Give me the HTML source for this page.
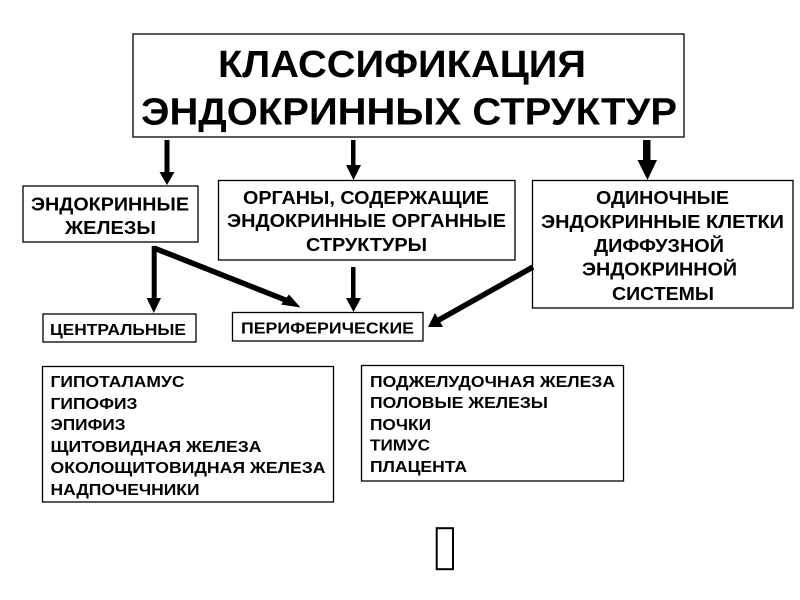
<!DOCTYPE html>
<html><head><meta charset="utf-8"><style>
html,body{margin:0;padding:0;background:#fff}
svg{display:block}
text{font-family:"Liberation Sans",sans-serif;font-weight:bold;fill:#000}
.t{font-size:38px}
.m{font-size:18.5px}
.s{font-size:16px}
rect{fill:#fff;stroke:#000;stroke-width:1.3}
</style></head><body>
<svg width="800" height="600" viewBox="0 0 800 600" xmlns="http://www.w3.org/2000/svg">
<rect x="133" y="34" width="551" height="103"/>
<rect x="23" y="186" width="175" height="56"/>
<rect x="218.500" y="180.500" width="296.500" height="79.500"/>
<rect x="532.500" y="180.500" width="260.500" height="127.500"/>
<rect x="43" y="314" width="153" height="28"/>
<rect x="232.500" y="312.500" width="190.500" height="28.500"/>
<rect x="42.500" y="366.500" width="291" height="135.500"/>
<rect x="361.500" y="365.500" width="262" height="115.500"/>
<rect x="436.700" y="528.200" width="16.300" height="41" style="stroke-width:2"/>

<text class="t" x="218" y="77" textLength="368" lengthAdjust="spacingAndGlyphs">КЛАССИФИКАЦИЯ</text>
<text class="t" x="141" y="124.500" textLength="536" lengthAdjust="spacingAndGlyphs">ЭНДОКРИННЫХ СТРУКТУР</text>

<text class="m" x="31" y="210.500" textLength="158" lengthAdjust="spacingAndGlyphs">ЭНДОКРИННЫЕ</text>
<text class="m" x="65" y="234" textLength="91" lengthAdjust="spacingAndGlyphs">ЖЕЛЕЗЫ</text>
<text class="m" x="243" y="204" textLength="246" lengthAdjust="spacingAndGlyphs">ОРГАНЫ, СОДЕРЖАЩИЕ</text>
<text class="m" x="227" y="227" textLength="279" lengthAdjust="spacingAndGlyphs">ЭНДОКРИННЫЕ ОРГАННЫЕ</text>
<text class="m" x="306" y="251" textLength="121" lengthAdjust="spacingAndGlyphs">СТРУКТУРЫ</text>
<text class="m" x="596" y="204" textLength="133" lengthAdjust="spacingAndGlyphs">ОДИНОЧНЫЕ</text>
<text class="m" x="541" y="228" textLength="243" lengthAdjust="spacingAndGlyphs">ЭНДОКРИННЫЕ КЛЕТКИ</text>
<text class="m" x="594" y="252" textLength="130" lengthAdjust="spacingAndGlyphs">ДИФФУЗНОЙ</text>
<text class="m" x="582" y="275.500" textLength="155" lengthAdjust="spacingAndGlyphs">ЭНДОКРИННОЙ</text>
<text class="m" x="612" y="300" textLength="102" lengthAdjust="spacingAndGlyphs">СИСТЕМЫ</text>

<text class="s" x="50" y="335" textLength="136" lengthAdjust="spacingAndGlyphs">ЦЕНТРАЛЬНЫЕ</text>
<text class="s" x="241" y="333.500" textLength="173" lengthAdjust="spacingAndGlyphs">ПЕРИФЕРИЧЕСКИЕ</text>

<text class="s" x="50.500" y="387" textLength="134" lengthAdjust="spacingAndGlyphs">ГИПОТАЛАМУС</text>
<text class="s" x="50.500" y="409" textLength="87" lengthAdjust="spacingAndGlyphs">ГИПОФИЗ</text>
<text class="s" x="50.500" y="430" textLength="75" lengthAdjust="spacingAndGlyphs">ЭПИФИЗ</text>
<text class="s" x="50.500" y="452" textLength="211" lengthAdjust="spacingAndGlyphs">ЩИТОВИДНАЯ ЖЕЛЕЗА</text>
<text class="s" x="50.500" y="473" textLength="275" lengthAdjust="spacingAndGlyphs">ОКОЛОЩИТОВИДНАЯ ЖЕЛЕЗА</text>
<text class="s" x="50.500" y="495" textLength="149" lengthAdjust="spacingAndGlyphs">НАДПОЧЕЧНИКИ</text>

<text class="s" x="370" y="387" textLength="245" lengthAdjust="spacingAndGlyphs">ПОДЖЕЛУДОЧНАЯ ЖЕЛЕЗА</text>
<text class="s" x="370" y="408" textLength="178" lengthAdjust="spacingAndGlyphs">ПОЛОВЫЕ ЖЕЛЕЗЫ</text>
<text class="s" x="370" y="430" textLength="61" lengthAdjust="spacingAndGlyphs">ПОЧКИ</text>
<text class="s" x="370" y="450.500" textLength="60" lengthAdjust="spacingAndGlyphs">ТИМУС</text>
<text class="s" x="370" y="472" textLength="97" lengthAdjust="spacingAndGlyphs">ПЛАЦЕНТА</text>

<g fill="#000" stroke="none">
<polygon points="164.500,140 169.500,140 169.500,172 174.500,172 167,185 159.500,172 164.500,172"/>
<polygon points="351,140 355.500,140 355.500,165 361,165 353.500,180 346,165 351,165"/>
<polygon points="643,140 650.500,140 650.500,160 657,160 647.500,180 637.500,160 643,160"/>
<polygon points="351,267 355.500,267 355.500,298 361,298 353.500,312 346,298 351,298"/>
<polygon points="151.700,246 156.700,246 156.700,298 161,298 153.800,313 146.700,298 151.700,298"/>
<polygon points="289,294.500 300.500,307.500 281,304.500"/>
<polygon points="435,313 428,327 443,327"/>
</g>
<line x1="154" y1="248" x2="288" y2="301" stroke="#000" stroke-width="5.500"/>
<line x1="533" y1="267" x2="437" y2="321" stroke="#000" stroke-width="5.500"/>
</svg>
</body></html>
